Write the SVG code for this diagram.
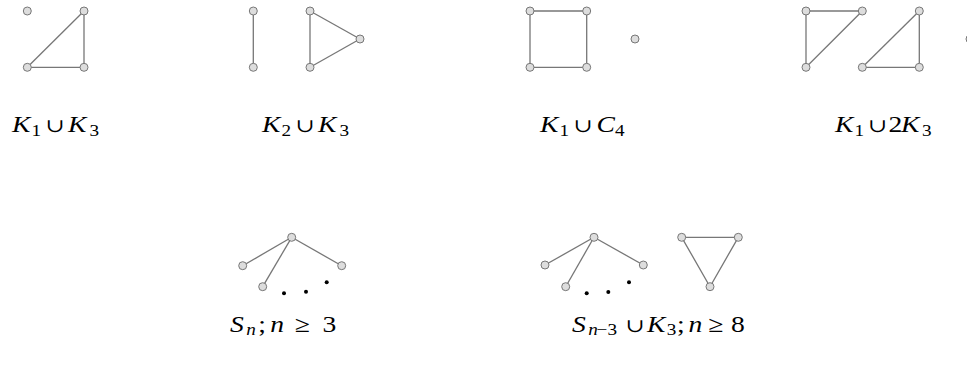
<svg xmlns="http://www.w3.org/2000/svg" width="967" height="369" viewBox="0 0 967 369">
<style>
.e{stroke:#777;stroke-width:1.3;fill:none}
.n{fill:#ddd;stroke:#777;stroke-width:1}
.d{fill:#000}
.t{font-family:"Liberation Serif","DejaVu Serif",serif;font-size:23px;fill:#000}
.i{font-style:italic}
.s{font-size:16px}
.u{font-size:19px}
</style>
<rect width="967" height="369" fill="#fff"/>
<g id="connectors">
<line class="e" x1="84" y1="11" x2="27.3" y2="67.3"/>
<line class="e" x1="84" y1="11" x2="84" y2="67.3"/>
<line class="e" x1="27.3" y1="67.3" x2="84" y2="67.3"/>
<line class="e" x1="253.3" y1="11" x2="253.3" y2="67.3"/>
<line class="e" x1="310" y1="11" x2="310" y2="67.3"/>
<line class="e" x1="310" y1="11" x2="360" y2="39"/>
<line class="e" x1="310" y1="67.3" x2="360" y2="39"/>
<path class="e" d="M530 11H586.7V67.3H530Z"/>
<line class="e" x1="806" y1="11" x2="862.3" y2="11"/>
<line class="e" x1="806" y1="11" x2="806" y2="67.3"/>
<line class="e" x1="862.3" y1="11" x2="806" y2="67.3"/>
<line class="e" x1="919.3" y1="11" x2="862.3" y2="67.3"/>
<line class="e" x1="919.3" y1="11" x2="919.3" y2="67.3"/>
<line class="e" x1="862.3" y1="67.3" x2="919.3" y2="67.3"/>
<line class="e" x1="291.7" y1="237.3" x2="242.7" y2="265.7"/>
<line class="e" x1="291.7" y1="237.3" x2="341.7" y2="265.7"/>
<line class="e" x1="291.7" y1="237.3" x2="262.7" y2="286.7"/>
<line class="e" x1="594" y1="237.3" x2="545" y2="265"/>
<line class="e" x1="594" y1="237.3" x2="643.3" y2="265"/>
<line class="e" x1="594" y1="237.3" x2="565.7" y2="286.7"/>
<path class="e" d="M681.7 237.3H738.3L710 286.7Z"/>
</g>
<g id="g1">
<circle class="n" cx="27.3" cy="11" r="4"/>
<circle class="n" cx="84" cy="11" r="4"/>
<circle class="n" cx="27.3" cy="67.3" r="4"/>
<circle class="n" cx="84" cy="67.3" r="4"/>
<text class="t" transform="translate(12 132) scale(1.2 1)" y="0"><tspan class="i" x="0">K</tspan><tspan class="s" x="16.2" y="3.5">1</tspan><tspan class="u" x="28" y="0">∪</tspan><tspan class="i" x="46.7">K</tspan><tspan class="s" x="64.6" y="3.5">3</tspan></text>
</g>
<g id="g2">
<circle class="n" cx="253.3" cy="11" r="4"/>
<circle class="n" cx="253.3" cy="67.3" r="4"/>
<circle class="n" cx="310" cy="11" r="4"/>
<circle class="n" cx="310" cy="67.3" r="4"/>
<circle class="n" cx="360" cy="39" r="4"/>
<text class="t" transform="translate(262 132) scale(1.2 1)" y="0"><tspan class="i" x="0">K</tspan><tspan class="s" x="16.2" y="3.5">2</tspan><tspan class="u" x="28" y="0">∪</tspan><tspan class="i" x="46.7">K</tspan><tspan class="s" x="64.6" y="3.5">3</tspan></text>
</g>
<g id="g3">
<circle class="n" cx="530" cy="11" r="4"/>
<circle class="n" cx="586.7" cy="11" r="4"/>
<circle class="n" cx="530" cy="67.3" r="4"/>
<circle class="n" cx="586.7" cy="67.3" r="4"/>
<circle class="n" cx="635" cy="39" r="4"/>
<text class="t" transform="translate(540 132) scale(1.2 1)" y="0"><tspan class="i" x="0">K</tspan><tspan class="s" x="16.2" y="3.5">1</tspan><tspan class="u" x="28" y="0">∪</tspan><tspan class="i" x="47">C</tspan><tspan class="s" x="62.5" y="3.5">4</tspan></text>
</g>
<g id="g4">
<circle class="n" cx="806" cy="11" r="4"/>
<circle class="n" cx="862.3" cy="11" r="4"/>
<circle class="n" cx="806" cy="67.3" r="4"/>
<circle class="n" cx="919.3" cy="11" r="4"/>
<circle class="n" cx="862.3" cy="67.3" r="4"/>
<circle class="n" cx="919.3" cy="67.3" r="4"/>
<circle class="n" cx="970" cy="39" r="4"/>
<text class="t" transform="translate(835 132) scale(1.2 1)" y="0"><tspan class="i" x="0">K</tspan><tspan class="s" x="16.2" y="3.5">1</tspan><tspan class="u" x="27.5" y="0">∪</tspan><tspan x="44.5">2</tspan><tspan class="i" x="55">K</tspan><tspan class="s" x="72.5" y="3.5">3</tspan></text>
</g>
<g id="g5">
<circle class="n" cx="291.7" cy="237.3" r="4"/>
<circle class="n" cx="242.7" cy="265.7" r="4"/>
<circle class="n" cx="341.7" cy="265.7" r="4"/>
<circle class="n" cx="262.7" cy="286.7" r="4"/>
<circle class="d" cx="284" cy="293.3" r="2"/>
<circle class="d" cx="306" cy="291.7" r="2"/>
<circle class="d" cx="326.7" cy="282.3" r="2"/>
<text class="t" transform="translate(230 331.5) scale(1.2 1)" y="0"><tspan class="i" x="0">S</tspan><tspan class="s i" x="13.5" y="3.5">n</tspan><tspan x="23.5" y="0">;</tspan><tspan class="i" x="33.5">n</tspan><tspan x="54">≥</tspan><tspan x="77">3</tspan></text>
</g>
<g id="g6">
<circle class="n" cx="594" cy="237.3" r="4"/>
<circle class="n" cx="545" cy="265" r="4"/>
<circle class="n" cx="643.3" cy="265" r="4"/>
<circle class="n" cx="565.7" cy="286.7" r="4"/>
<circle class="d" cx="586.7" cy="293.3" r="2"/>
<circle class="d" cx="608.3" cy="292" r="2"/>
<circle class="d" cx="629" cy="282.3" r="2"/>
<circle class="n" cx="681.7" cy="237.3" r="4"/>
<circle class="n" cx="738.3" cy="237.3" r="4"/>
<circle class="n" cx="710" cy="286.7" r="4"/>
<text class="t" transform="translate(572 331.5) scale(1.2 1)" y="0"><tspan class="i" x="0">S</tspan><tspan class="s i" x="13.5" y="3.5">n</tspan><tspan class="s" x="20.5">−3</tspan><tspan class="u" x="44.5" y="0">∪</tspan><tspan class="i" x="62.5">K</tspan><tspan class="s" x="79" y="3.5">3</tspan><tspan x="87.5" y="0">;</tspan><tspan class="i" x="97">n</tspan><tspan x="113.5">≥</tspan><tspan x="132.5">8</tspan></text>
</g>
</svg>
